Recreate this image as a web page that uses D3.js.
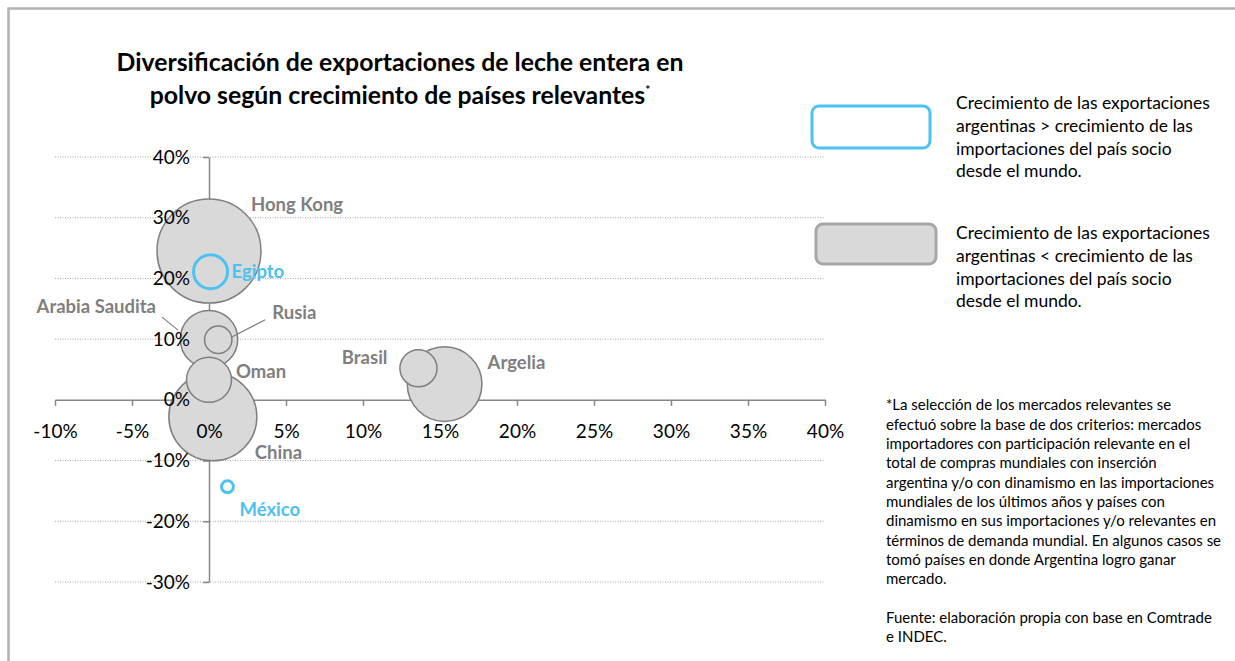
<!DOCTYPE html>
<html>
<head>
<meta charset="utf-8">
<script src="https://cdn.jsdelivr.net/npm/d3@7"></script>
<style>
  html, body { margin: 0; padding: 0; background: #fff; }
  svg { display: block; font-family: Lato, "Open Sans", sans-serif; }
</style>
</head>
<body>
<div id="chart"></div>
<script>
// data
const countries   = ["Hong Kong", "China", "Argelia", "Arabia Saudita", "Oman", "Brasil", "Egipto", "Rusia", "México"];
const xGrowth     = [0.0, 0.25, 15.3, 0.0, 0.0, 13.6, 0.1, 0.6, 1.2];
const yGrowth     = [24.5, -2.8, 2.6, 10.0, 3.3, 5.2, 21.1, 9.9, -14.3];
const bubbleSizes = [100, 71.6, 51.5, 30.5, 18.7, 12.7, 10.7, 6.9, 1.3];
const groups      = ["menor", "menor", "menor", "menor", "menor", "menor", "mayor", "menor", "mayor"];
const xTicks = [-10, -5, 0, 5, 10, 15, 20, 25, 30, 35, 40];
const yTicks = [-30, -20, -10, 0, 10, 20, 30, 40];

const titleLines = ["Diversificación de exportaciones de leche entera en", "polvo según crecimiento de países relevantes"];
const legendTexts = [
  ["Crecimiento de las exportaciones", "argentinas > crecimiento de las", "importaciones del país socio", "desde el mundo."],
  ["Crecimiento de las  exportaciones", "argentinas < crecimiento de las", "importaciones del país socio", "desde el mundo."]
];
const noteLines = [
  "*La selección de los mercados relevantes se",
  "efectuó sobre la base de dos criterios: mercados",
  "importadores con participación relevante en el",
  "total de compras mundiales con inserción",
  "argentina y/o con dinamismo en las importaciones",
  "mundiales de los últimos años y países con",
  "dinamismo en sus importaciones y/o relevantes en",
  "términos de demanda mundial. En algunos casos se",
  "tomó países en donde Argentina logro ganar",
  "mercado.",
  "",
  "Fuente: elaboración propia con base en Comtrade",
  "e INDEC."
];

// label placement, pixels from the bubble centre
const labelPos = {
  "Hong Kong":      { dx: 42,  dy: -47, anchor: "start" },
  "China":          { dx: 42,  dy: 35,  anchor: "start" },
  "Argelia":        { dx: 43,  dy: -22, anchor: "start" },
  "Arabia Saudita": { dx: -53, dy: -33, anchor: "end", leader: [[-47, -22], [-31, -9]] },
  "Oman":           { dx: 27,  dy: -8,  anchor: "start" },
  "Brasil":         { dx: -31, dy: -11, anchor: "end" },
  "Egipto":         { dx: 21,  dy: 0,   anchor: "start" },
  "Rusia":          { dx: 54,  dy: -27, anchor: "start", leader: [[47, -20], [14, -3]] },
  "México":         { dx: 12,  dy: 23,  anchor: "start" }
};

const width = 1235, height = 661;
const blue = "#4cc2f2", gray = "#7f7f7f", fillGray = "#d9d9d9";

const svg = d3.select("#chart").append("svg")
  .attr("width", width)
  .attr("height", height);

// frame
svg.append("rect")
  .attr("x", 8.5).attr("y", 8.5)
  .attr("width", width + 20).attr("height", height + 20)
  .attr("fill", "none")
  .attr("stroke", "#b3b3b3")
  .attr("stroke-width", 2.5);

const x = d3.scaleLinear().domain([-10, 40]).range([55, 825]);
const y = d3.scaleLinear().domain([-30, 40]).range([582, 157]);
const r = d3.scaleSqrt().domain([0, 100]).range([0, 52]);

// gridlines
svg.append("g")
  .selectAll("line")
  .data(yTicks.filter(d => d !== 0))
  .enter()
  .append("line")
  .attr("x1", x(-10)).attr("x2", x(40))
  .attr("y1", d => y(d)).attr("y2", d => y(d))
  .attr("stroke", "#a6a6a6")
  .attr("stroke-width", 1)
  .attr("stroke-dasharray", "1,1.5");

// axis lines and ticks (under the bubbles)
const xAxisLine = svg.append("g")
  .attr("transform", `translate(0,${y(0)})`)
  .call(d3.axisBottom(x).tickValues(xTicks).tickSize(6).tickSizeOuter(0).tickFormat(""));
const yAxisLine = svg.append("g")
  .attr("transform", `translate(${x(0)},0)`)
  .call(d3.axisLeft(y).tickValues(yTicks).tickSize(6).tickSizeOuter(0).tickFormat(""));
[xAxisLine, yAxisLine].forEach(g => {
  g.selectAll("path, line").attr("stroke", "#868686").attr("stroke-width", 1.5);
});

// bubbles, largest at the back
const points = countries.map((name, i) => ({
  name, x: xGrowth[i], y: yGrowth[i], size: bubbleSizes[i], group: groups[i]
})).sort((a, b) => b.size - a.size);

svg.append("g")
  .selectAll("circle")
  .data(points)
  .enter()
  .append("circle")
  .attr("cx", d => x(d.x))
  .attr("cy", d => y(d.y))
  .attr("r", d => r(d.size))
  .attr("fill", d => d.group === "mayor" ? "none" : fillGray)
  .attr("stroke", d => d.group === "mayor" ? blue : gray)
  .attr("stroke-width", d => d.group === "mayor" ? 3 : 1.5);

// tick labels (drawn over the bubbles)
const xLabels = svg.append("g")
  .attr("transform", `translate(0,${y(0)})`)
  .call(d3.axisBottom(x).tickValues(xTicks).tickSize(0).tickPadding(25).tickFormat(d => d + "%"));
const yLabels = svg.append("g")
  .attr("transform", `translate(${x(0)},0)`)
  .call(d3.axisLeft(y).tickValues(yTicks).tickSize(0).tickPadding(19).tickFormat(d => d + "%"));
[xLabels, yLabels].forEach(g => {
  g.select(".domain").remove();
  g.selectAll("text").attr("fill", "#000").attr("font-size", 19).attr("font-family", "Lato, sans-serif");
});

// leader lines
svg.append("g")
  .selectAll("line")
  .data(points.filter(d => labelPos[d.name].leader))
  .enter()
  .append("line")
  .attr("x1", d => x(d.x) + labelPos[d.name].leader[0][0])
  .attr("y1", d => y(d.y) + labelPos[d.name].leader[0][1])
  .attr("x2", d => x(d.x) + labelPos[d.name].leader[1][0])
  .attr("y2", d => y(d.y) + labelPos[d.name].leader[1][1])
  .attr("stroke", gray)
  .attr("stroke-width", 1.2);

// data labels
svg.append("g")
  .selectAll("text")
  .data(points)
  .enter()
  .append("text")
  .attr("x", d => x(d.x) + labelPos[d.name].dx)
  .attr("y", d => y(d.y) + labelPos[d.name].dy)
  .attr("dy", "0.36em")
  .attr("text-anchor", d => labelPos[d.name].anchor)
  .attr("font-size", 18.5)
  .attr("font-weight", "bold")
  .attr("fill", d => d.group === "mayor" ? blue : gray)
  .text(d => d.name);

// title
const title = svg.append("text")
  .attr("text-anchor", "middle")
  .attr("font-size", 24.8)
  .attr("font-weight", "bold")
  .attr("fill", "#000");
title.append("tspan").attr("x", 400).attr("y", 71).text(titleLines[0]);
title.append("tspan").attr("x", 400).attr("y", 104).text(titleLines[1]);
title.append("tspan").attr("dy", -10).attr("font-size", 12).text("*");

// legend
const legendY = [106, 224];
svg.append("rect")
  .attr("x", 812).attr("y", legendY[0]).attr("width", 118).attr("height", 42)
  .attr("rx", 7).attr("fill", "#fff").attr("stroke", blue).attr("stroke-width", 3);
svg.append("rect")
  .attr("x", 816).attr("y", legendY[1]).attr("width", 120).attr("height", 40)
  .attr("rx", 7).attr("fill", fillGray).attr("stroke", "#a6a6a6").attr("stroke-width", 3);

const legendTop = [103, 233];
legendTexts.forEach((lines, k) => {
  svg.append("g")
    .selectAll("text")
    .data(lines)
    .enter()
    .append("text")
    .attr("x", 956)
    .attr("y", (d, i) => legendTop[k] + i * 22.7)
    .attr("dy", "0.35em")
    .attr("font-size", 17.5)
    .attr("fill", "#000")
    .text(d => d);
});

// footnote
svg.append("g")
  .selectAll("text")
  .data(noteLines)
  .enter()
  .append("text")
  .attr("x", 886)
  .attr("y", (d, i) => 405 + i * 19.35)
  .attr("dy", "0.35em")
  .attr("font-size", 15)
  .attr("fill", "#000")
  .text(d => d);
</script>
</body>
</html>
